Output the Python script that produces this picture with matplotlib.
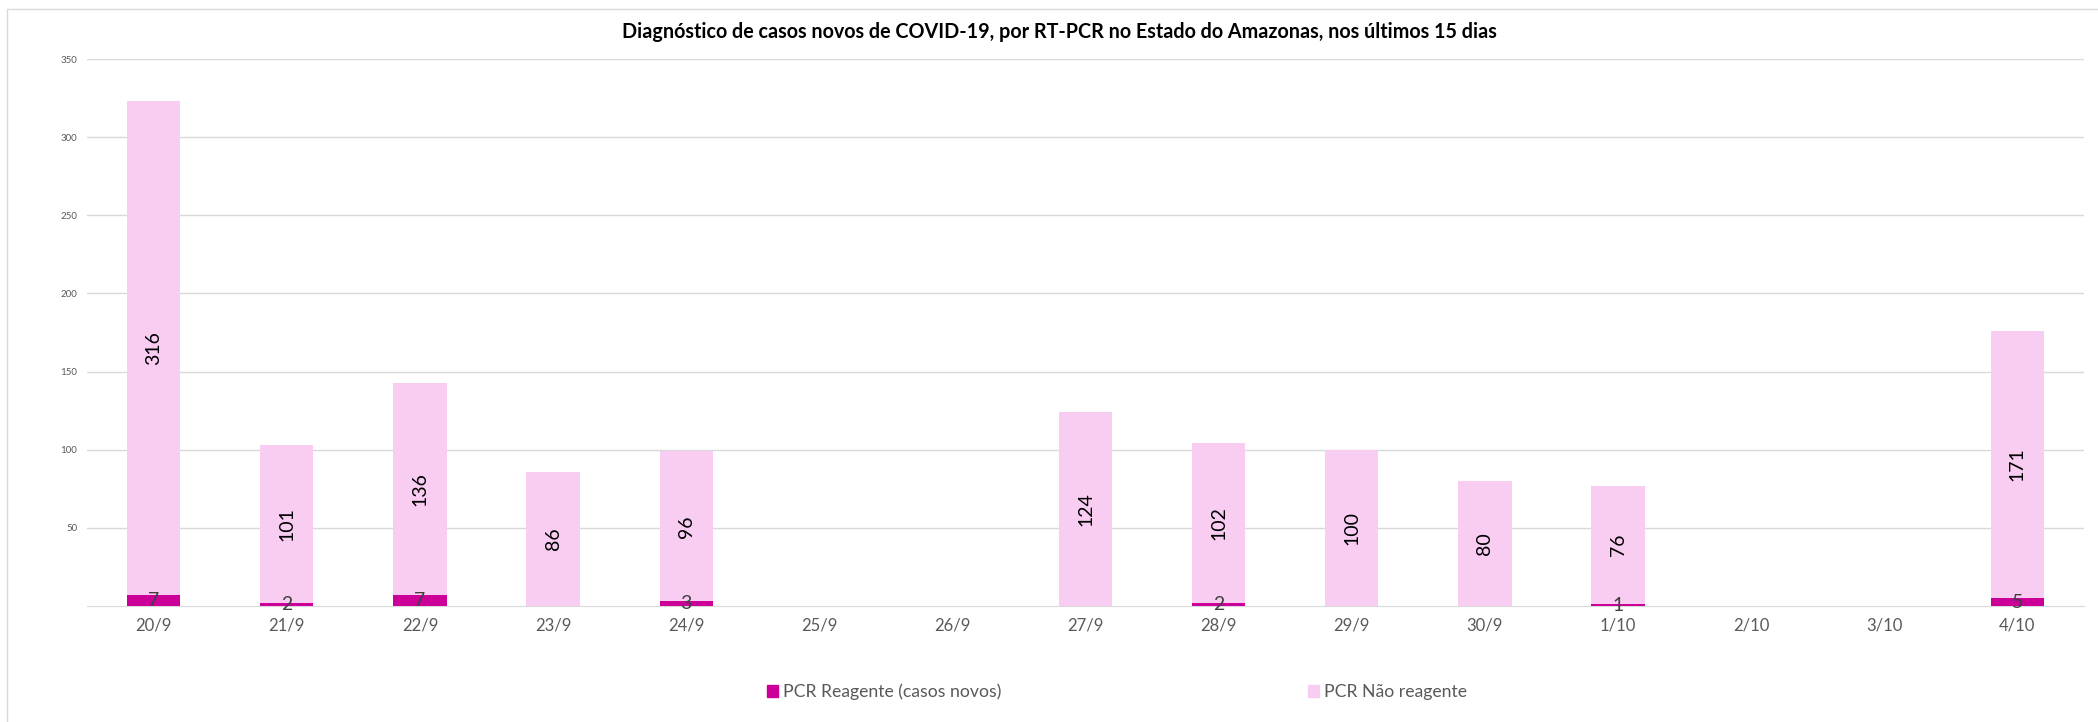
import matplotlib.pyplot as plt
import numpy as np
from matplotlib.patches import Rectangle

# Data
dias = ["20/9", "21/9", "22/9", "23/9", "24/9", "25/9", "26/9", "27/9",
        "28/9", "29/9", "30/9", "1/10", "2/10", "3/10", "4/10"]
reagente = [7, 2, 7, 0, 3, 0, 0, 0, 2, 0, 0, 1, 0, 0, 5]
nao_reagente = [316, 101, 136, 86, 96, 0, 0, 124, 102, 100, 80, 76, 0, 0, 171]
y_ticks = [50, 100, 150, 200, 250, 300, 350]

COR_REAG = "#CC0099"
COR_NAO = "#F9CCF2"
CINZA = "#595959"

plt.rcParams["font.family"] = ["Lato", "DejaVu Sans"]


def main():
    fig = plt.figure(figsize=(20.98, 7.22), dpi=100)
    ax = fig.add_axes([0.0415, 0.1607, 0.9518, 0.7575])

    x = np.arange(len(dias))
    b1 = ax.bar(x, reagente, width=0.4, color=COR_REAG, zorder=3)
    b2 = ax.bar(x, nao_reagente, width=0.4, bottom=reagente, color=COR_NAO, zorder=3)

    ax.bar_label(b1, labels=[str(v) if v else "" for v in reagente],
                 label_type="center", fontsize=14, color="#404040", zorder=4)
    ax.bar_label(b2, labels=[str(v) if v else "" for v in nao_reagente],
                 label_type="center", rotation=90, fontsize=14, color="black", zorder=4)

    ax.set_xlim(-0.5, len(dias) - 0.5)
    ax.set_ylim(0, 350)
    ax.set_yticks(y_ticks)
    ax.set_xticks(x)
    ax.set_xticklabels(dias)
    ax.tick_params(axis="x", length=0, labelsize=12, labelcolor=CINZA, pad=8)
    ax.tick_params(axis="y", length=0, labelsize=7, labelcolor=CINZA, pad=7)
    ax.grid(axis="y", color="#D9D9D9", lw=1, zorder=0)
    for s in ["top", "right", "left"]:
        ax.spines[s].set_visible(False)
    ax.spines["bottom"].set_color("#D9D9D9")

    fig.text(0.5048, 1 - 32 / 722, "Diagnóstico de casos novos de COVID-19, por RT-PCR no Estado do Amazonas, nos últimos 15 dias",
             ha="center", va="center", fontsize=14.2, fontweight="bold", color="black")

    h1 = Rectangle((0, 0), 1, 1, color=COR_REAG)
    h2 = Rectangle((0, 0), 1, 1, color=COR_NAO)
    fig.legend([h1, h2], ["PCR Reagente (casos novos)", "PCR Não reagente"],
               loc="center left", bbox_to_anchor=(767 / 2098, 1 - 692 / 722),
               ncol=2, frameon=False, fontsize=12.7, labelcolor=CINZA,
               handlelength=0.6, handleheight=0.6, handletextpad=0.3,
               columnspacing=17.4, borderpad=0, borderaxespad=0)

    # chart area border
    fig.patches.append(Rectangle((7 / 2098, -0.01), 1.0, 1 - 9 / 722 + 0.01,
                                 transform=fig.transFigure, fill=False,
                                 edgecolor="#D9D9D9", lw=1))

    fig.savefig("out.png", dpi=100)
    plt.close(fig)


if __name__ == "__main__":
    main()
